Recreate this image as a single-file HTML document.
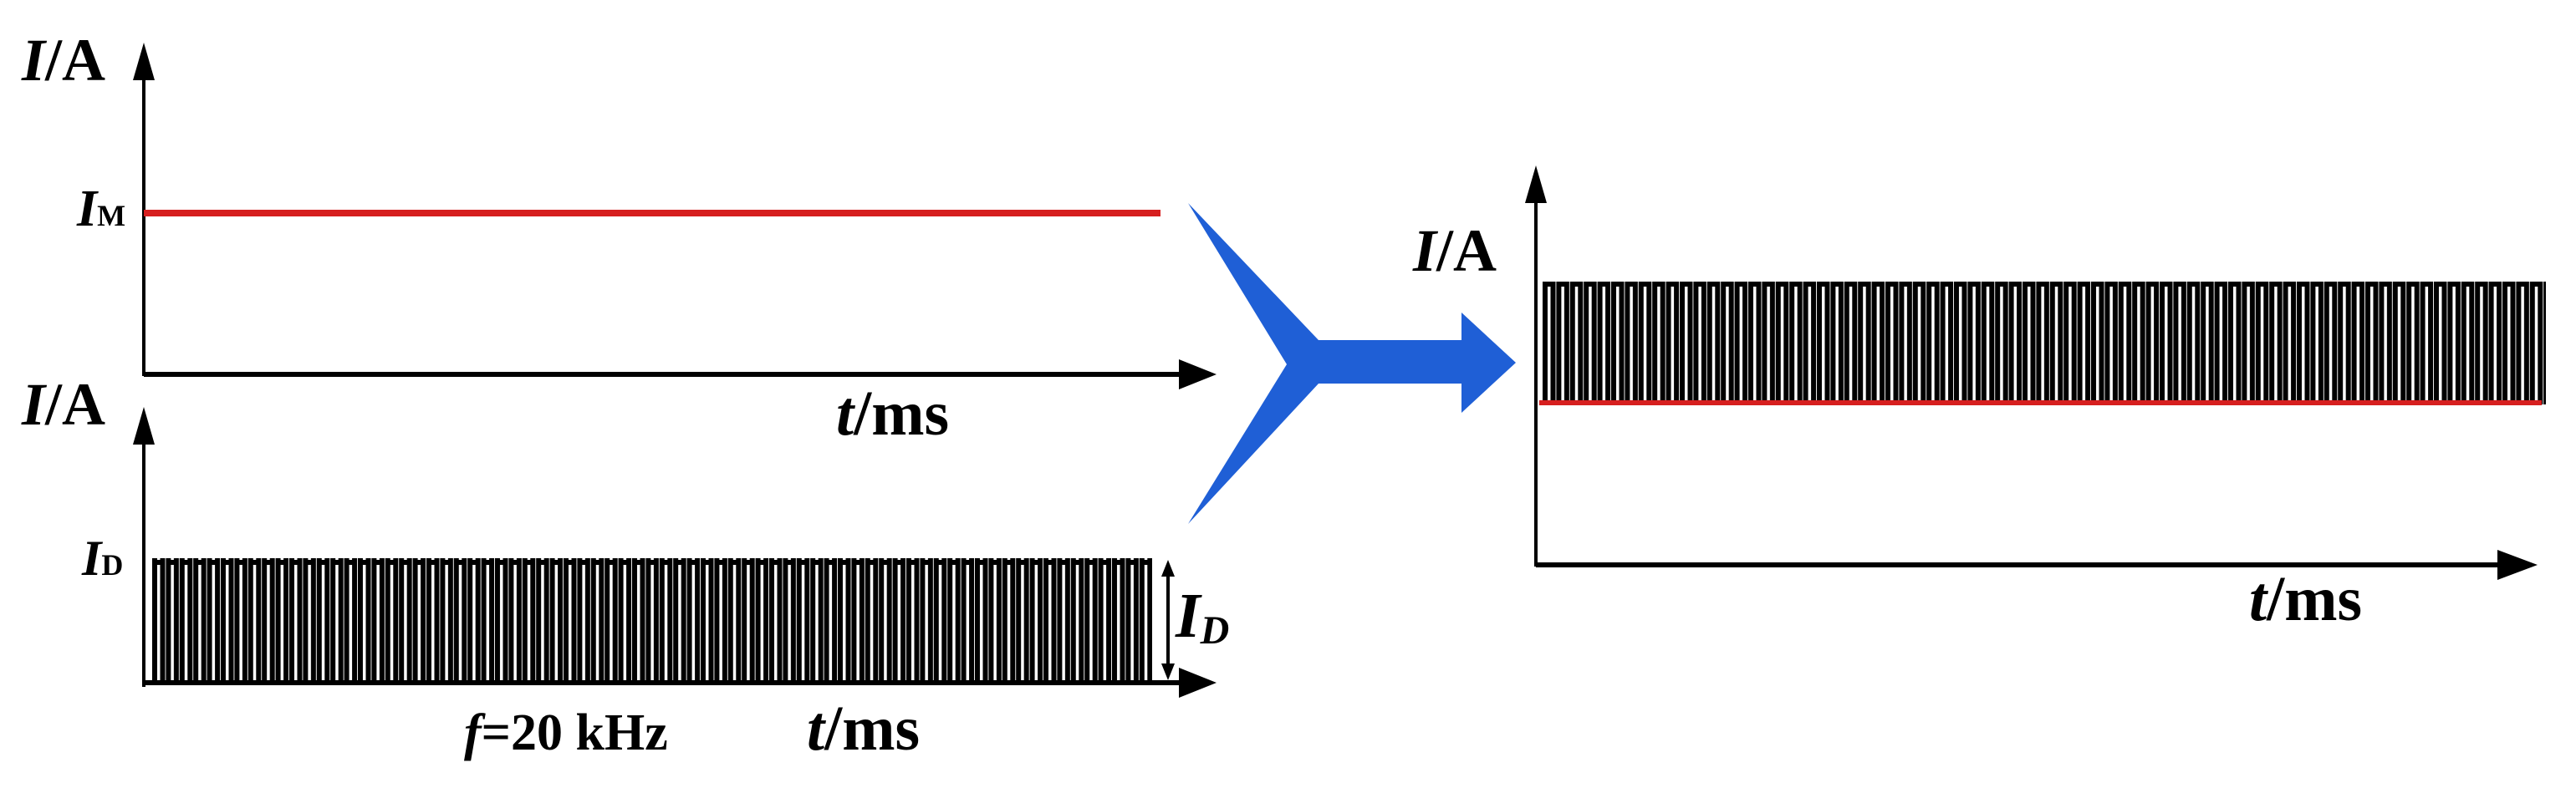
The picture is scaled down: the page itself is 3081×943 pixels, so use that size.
<!DOCTYPE html>
<html><head><meta charset="utf-8"><style>
html,body{margin:0;padding:0;background:#fff;width:3081px;height:943px;overflow:hidden}
svg{display:block}
text{font-family:"Liberation Serif",serif;font-weight:bold;fill:#000}
</style></head><body>
<svg width="3081" height="943" viewBox="0 0 3081 943" xmlns="http://www.w3.org/2000/svg">
<defs>
<pattern id="pl" x="182" y="670" width="16.4" height="146" patternUnits="userSpaceOnUse">
<path d="M3,146 V3 H12.5 V146" stroke="#000" stroke-width="6" fill="none"/>
</pattern>
<pattern id="pr" x="1845" y="337" width="16.4" height="147" patternUnits="userSpaceOnUse">
<path d="M3,147 V3 H12.5 V147" stroke="#000" stroke-width="6" fill="none"/>
</pattern>
</defs>
<rect width="3081" height="943" fill="#fff"/>

<!-- top-left plot -->
<line x1="172" y1="90" x2="172" y2="450" stroke="#000" stroke-width="4"/>
<polygon points="172,51 159,96 185,96" fill="#000"/>
<text x="26" y="96" font-size="72" transform="scale(1,1)"><tspan font-style="italic">I</tspan>/A</text>
<line x1="172" y1="255" x2="1388" y2="255" stroke="#d61f1f" stroke-width="8"/>
<text x="92" y="270" font-size="62" font-weight="normal"><tspan font-style="italic">I</tspan><tspan font-size="36">M</tspan></text>
<line x1="172" y1="448" x2="1415" y2="448" stroke="#000" stroke-width="6"/>
<polygon points="1455,448 1410,430 1410,466" fill="#000"/>
<text x="1000" y="520" font-size="76"><tspan font-style="italic">t</tspan>/ms</text>

<!-- bottom-left plot -->
<text x="26" y="508" font-size="72"><tspan font-style="italic">I</tspan>/A</text>
<line x1="172" y1="525" x2="172" y2="822" stroke="#000" stroke-width="4"/>
<polygon points="172,487 159,532 185,532" fill="#000"/>
<text x="98" y="688" font-size="60" font-weight="normal"><tspan font-style="italic">I</tspan><tspan font-size="36">D</tspan></text>
<rect x="182" y="668" width="1196" height="148" fill="url(#pl)"/>
<line x1="172" y1="817" x2="1415" y2="817" stroke="#000" stroke-width="6"/>
<polygon points="1455,817 1410,799 1410,835" fill="#000"/>
<line x1="1397" y1="685" x2="1397" y2="800" stroke="#000" stroke-width="4"/>
<polygon points="1397,670 1389,690 1405,690" fill="#000"/>
<polygon points="1397,814 1389,794 1405,794" fill="#000"/>
<text x="1406" y="762" font-size="76" font-style="italic">I<tspan font-size="48" dy="8">D</tspan></text>
<text x="555" y="897" font-size="62"><tspan font-style="italic">f</tspan>=20 kHz</text>
<text x="965" y="897" font-size="76"><tspan font-style="italic">t</tspan>/ms</text>

<!-- blue chevron arrow -->
<polygon points="1421,243 1577,407 1748,407 1748,374 1813,434 1748,494 1748,459 1577,459 1421,627 1539,436" fill="#1f5fd6"/>

<!-- right plot -->
<line x1="1837" y1="235" x2="1837" y2="678" stroke="#000" stroke-width="4"/>
<polygon points="1837,198 1824,243 1850,243" fill="#000"/>
<text x="1690" y="324" font-size="72"><tspan font-style="italic">I</tspan>/A</text>
<rect x="1845" y="337" width="1200" height="147" fill="url(#pr)"/>
<line x1="1841" y1="482" x2="3040" y2="482" stroke="#d61f1f" stroke-width="6"/>
<line x1="1837" y1="676" x2="2995" y2="676" stroke="#000" stroke-width="6"/>
<polygon points="3035,676 2987,658 2987,694" fill="#000"/>
<text x="2690" y="742" font-size="76"><tspan font-style="italic">t</tspan>/ms</text>
</svg>
</body></html>
